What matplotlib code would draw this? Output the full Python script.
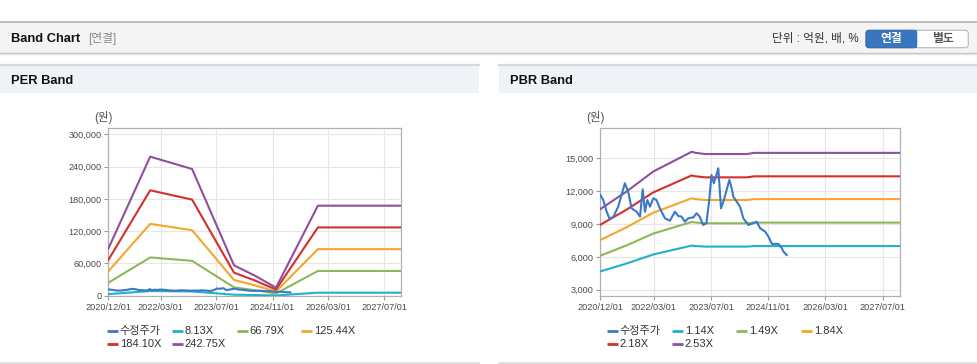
import datetime as dt
import matplotlib
matplotlib.use('Agg')
import matplotlib.pyplot as plt
from matplotlib.patches import Rectangle, FancyBboxPatch
from matplotlib.ticker import FuncFormatter

plt.rcParams['font.family'] = ['Liberation Sans', 'Noto Sans CJK KR', 'DejaVu Sans']

# ---------------- data ----------------
price_label = '수정주가'
price_dates = ['2020-12-01', '2020-12-26', '2021-01-24', '2021-02-16', '2021-03-20', '2021-05-02',
               '2021-06-28', '2021-07-26', '2021-08-24', '2021-10-06', '2021-11-04', '2021-11-27',
               '2021-12-16', '2022-01-05', '2022-01-28', '2022-02-25', '2022-03-24', '2022-04-22',
               '2022-06-04', '2022-07-16', '2022-08-28', '2022-09-25', '2022-10-23', '2022-11-21',
               '2022-12-19', '2023-02-01', '2023-02-28', '2023-03-27', '2023-04-25', '2023-05-23',
               '2023-06-16', '2023-07-05', '2023-07-25', '2023-08-12', '2023-09-01', '2023-09-24',
               '2023-10-19', '2023-12-04', '2023-12-24', '2024-01-07', '2024-02-05', '2024-03-04',
               '2024-04-01', '2024-05-14', '2024-06-25', '2024-07-23', '2024-08-22', '2024-10-04',
               '2024-11-01', '2024-11-30', '2025-01-25', '2025-02-23', '2025-03-08', '2025-04-05']
price_values = [11650, 11190, 10120, 9520, 9610, 10580,
                12720, 11950, 10430, 10120, 9670, 12170,
                10120, 11190, 10580, 11350, 11190, 10430,
                9520, 9300, 10120, 9730, 9670, 9210,
                9520, 9610, 9980, 9670, 8910, 9070,
                11190, 13470, 12720, 13320, 14090, 10430,
                11190, 13020, 12260, 11490, 11040, 10580,
                9520, 8910, 9070, 9210, 8610, 8300,
                7840, 7180, 7180, 6780, 6480, 6170]

per_dates = ['2020-12-01', '2021-12-01', '2022-12-01', '2023-12-01', '2024-06-01',
             '2024-12-01', '2025-12-01', '2027-11-25']
per_labels = ['8.13X', '66.79X', '125.44X', '184.10X', '242.75X']
per_band_813 = [2930, 8650, 7890, 1890, 1240, 500, 5600, 5600]
per_band_6679 = [24050, 71100, 64800, 15540, 10200, 4130, 46000, 46000]
per_band_12544 = [45200, 133500, 121700, 29200, 19200, 7800, 86500, 86500]
per_band_18410 = [66300, 195900, 178600, 42850, 28200, 11400, 126900, 126900]
per_band_24275 = [87400, 258400, 235500, 56500, 37100, 15000, 167300, 167300]

pbr_dates = ['2020-12-01', '2021-07-13', '2022-02-24', '2023-01-18', '2023-02-15',
             '2023-05-10', '2024-05-01', '2024-07-01', '2027-11-25']
pbr_labels = ['1.14X', '1.49X', '1.84X', '2.18X', '2.53X']
pbr_band_114 = [4668, 5392, 6213, 7028, 6988, 6935, 6935, 6983, 6983]
pbr_band_149 = [6102, 7048, 8121, 9186, 9134, 9064, 9064, 9126, 9126]
pbr_band_184 = [7535, 8703, 10028, 11344, 11279, 11193, 11193, 11270, 11270]
pbr_band_218 = [8927, 10311, 11881, 13440, 13363, 13261, 13261, 13353, 13353]
pbr_band_253 = [10360, 11967, 13789, 15598, 15509, 15390, 15390, 15496, 15496]

x_tick_dates = ['2020-12-01', '2022-03-01', '2023-07-01', '2024-11-01', '2026-03-01', '2027-07-01']
x_tick_labels = ['2020/12/01', '2022/03/01', '2023/07/01', '2024/11/01', '2026/03/01', '2027/07/01']
per_y_ticks = [0, 60000, 120000, 180000, 240000, 300000]
pbr_y_ticks = [3000, 6000, 9000, 12000, 15000]

# ---------------- styles ----------------
C_PRICE = '#3a78c9'
BAND_COLORS = ['#22b2c8', '#8db85a', '#f4a62a', '#d2302a', '#8e4f9e']
W, H = 978, 364


def d(s):
    return dt.datetime.strptime(s, '%Y-%m-%d')


fig = plt.figure(figsize=(W / 100, H / 100), dpi=100)
fig.patch.set_facecolor('white')

bg = fig.add_axes([0, 0, 1, 1])
bg.set_xlim(0, W)
bg.set_ylim(H, 0)
bg.axis('off')

# top header bar
bg.add_patch(Rectangle((0, 22), W, 30.5, facecolor='#f4f4f4', edgecolor='none'))
bg.plot([0, W], [22, 22], color='#b4b4b4', lw=1.2)
bg.plot([0, W], [52.8, 52.8], color='#c4c4c4', lw=1.0)
bg.plot([0, W], [53.8, 53.8], color='#e2e2e2', lw=1.0)
bg.text(11, 38.5, 'Band Chart', fontsize=9.3, fontweight='bold', color='#111111', va='center', ha='left')
bg.text(88, 38.5, '[연결]', fontsize=8.5, color='#8a8a8a', va='center', ha='left')
bg.text(859, 38.2, '단위 : 억원, 배, %', fontsize=8.4, color='#333333', va='center', ha='right')

# buttons
bg.add_patch(FancyBboxPatch((866, 30.3), 102.3, 17.4, boxstyle='round,pad=0,rounding_size=3',
                            facecolor='white', edgecolor='#b8b8b8', lw=0.8))
bg.add_patch(FancyBboxPatch((866, 30.3), 50.7, 17.4, boxstyle='round,pad=0,rounding_size=3',
                            facecolor='#3877bf', edgecolor='#2f68ab', lw=0.8))
bg.add_patch(Rectangle((910, 30.3), 6.7, 17.4, facecolor='#3877bf', edgecolor='none'))
bg.text(891.3, 39.2, '연결', fontsize=8.5, fontweight='bold', color='white', va='center', ha='center')
bg.text(942.5, 39.2, '별도', fontsize=8.5, fontweight='bold', color='#555555', va='center', ha='center')

# panel headers
for x0, x1, title, tx in [(0, 479, 'PER Band', 11), (499, W, 'PBR Band', 510)]:
    bg.add_patch(Rectangle((x0, 64), x1 - x0, 28.7, facecolor='#eff2f7', edgecolor='none'))
    bg.plot([x0, x1], [64.5, 64.5], color='#d6d9de', lw=1.6)
    bg.text(tx, 80.5, title, fontsize=9.3, fontweight='bold', color='#111111', va='center', ha='left')
    bg.plot([x0, x1], [362.5, 362.5], color='#dcdcdc', lw=1.2)


def fmt(v, _):
    return f'{int(round(v)):,}'


def make_chart(rect, dates, bands, labels, ylim, yticks, unit_x, legend_x):
    ax = fig.add_axes(rect)
    ax.set_facecolor('white')
    bd = [d(s) for s in dates]
    for vals, col in zip(bands, BAND_COLORS):
        ax.plot(bd, vals, color=col, lw=1.5, solid_joinstyle='round', zorder=3)
    ax.plot([d(s) for s in price_dates], price_values, color=C_PRICE, lw=1.5,
            solid_joinstyle='round', zorder=4)
    ax.set_xlim(d('2020-12-01'), d('2027-11-25'))
    ax.set_ylim(*ylim)
    ax.set_xticks([d(s) for s in x_tick_dates])
    ax.set_xticklabels(x_tick_labels)
    ax.set_yticks(yticks)
    ax.yaxis.set_major_formatter(FuncFormatter(fmt))
    ax.grid(True, color='#e6e6e6', lw=0.8, zorder=0)
    ax.set_axisbelow(True)
    for sp in ax.spines.values():
        sp.set_color('#b0b0b0')
        sp.set_linewidth(0.9)
    ax.tick_params(axis='both', labelsize=6.6, colors='#9a9a9a', labelcolor='#4a4a4a',
                   length=3, width=0.8, pad=2)
    # unit label
    bg.text(unit_x, 117.5, '(원)', fontsize=8.3, color='#555555', va='center', ha='center')
    # legend
    names = [price_label] + labels
    cols = [C_PRICE] + BAND_COLORS
    for i, (nm, col) in enumerate(zip(names, cols)):
        row, c = divmod(i, 4)
        xs = legend_x[c]
        yy = 330.5 + row * 13
        bg.plot([xs, xs + 11], [yy, yy], color=col, lw=2.0, solid_capstyle='butt')
        bg.text(xs + 13, yy + 0.5, nm, fontsize=8.0, color='#333333', va='center', ha='left')
    return ax


per_rect = [108.3 / W, 1 - 295.7 / H, (401 - 108.3) / W, (295.7 - 128) / H]
pbr_rect = [600.3 / W, 1 - 295.7 / H, (900 - 600.3) / W, (295.7 - 128.3) / H]

make_chart(per_rect, per_dates,
           [per_band_813, per_band_6679, per_band_12544, per_band_18410, per_band_24275],
           per_labels, (0, 311700), per_y_ticks, 103, [106.7, 171.7, 236.7, 300.7])
make_chart(pbr_rect, pbr_dates,
           [pbr_band_114, pbr_band_149, pbr_band_184, pbr_band_218, pbr_band_253],
           pbr_labels, (2450, 17740), pbr_y_ticks, 595, [606.7, 671.7, 736, 800.7])

fig.savefig('out.png', dpi=100, facecolor='white')
